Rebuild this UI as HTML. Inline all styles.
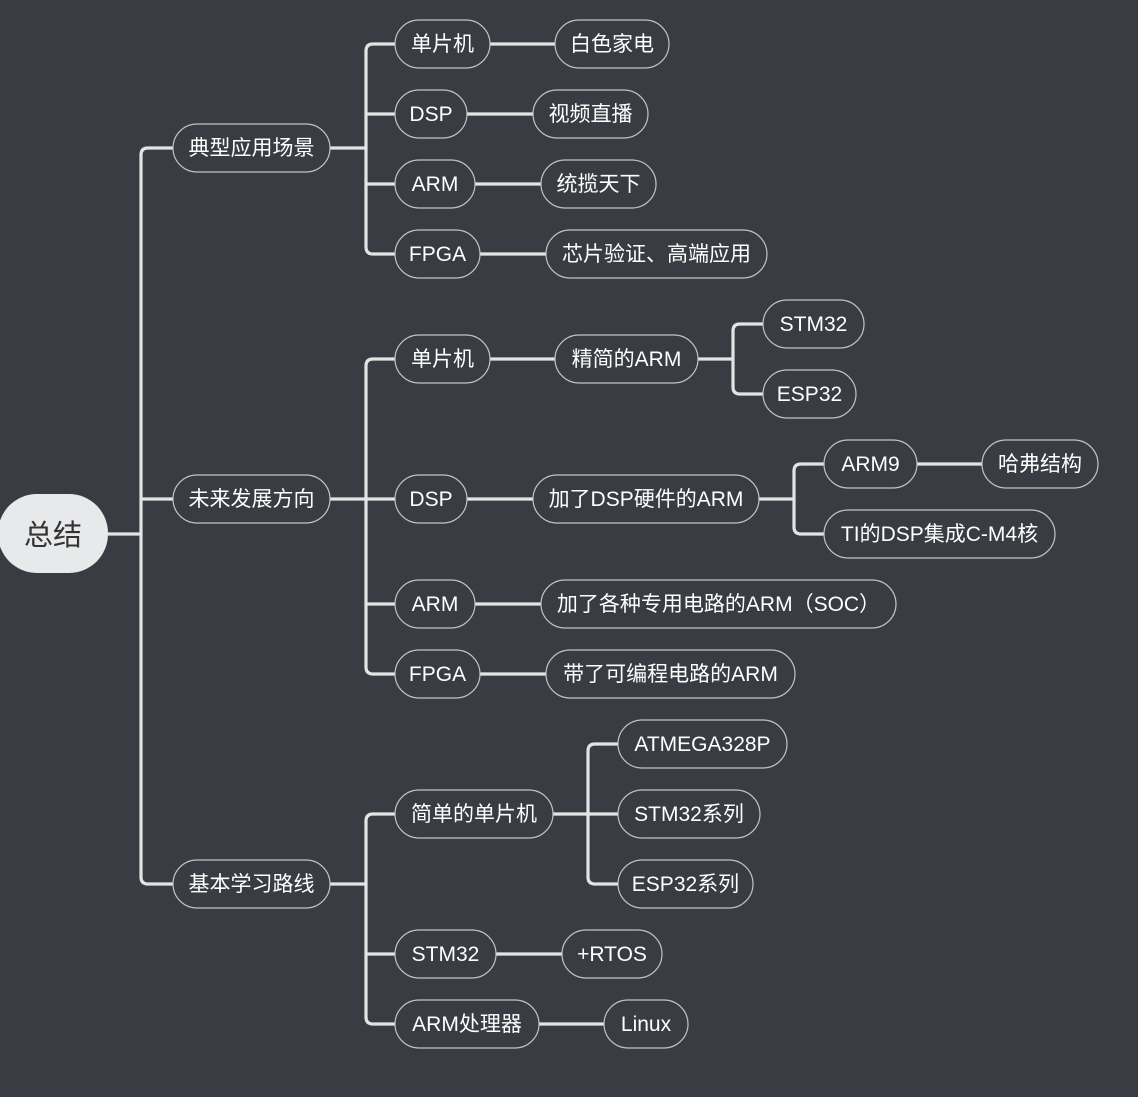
<!DOCTYPE html>
<html><head><meta charset="utf-8"><style>
html,body{margin:0;padding:0;background:#393c42;}
svg{display:block}
text{font-family:"Liberation Sans","Noto Sans CJK SC",sans-serif;font-size:21px;fill:#fff;}
.n{fill:#393c42;stroke:#c4c4c4;stroke-width:1.2}
.l{fill:none;stroke:#e4e4e4;stroke-width:3.2}
</style></head><body>
<svg width="1138" height="1097" viewBox="0 0 1138 1097" xmlns="http://www.w3.org/2000/svg">
<g class="l">
<path d="M108 534 H141"/>
<path d="M173 148 H148 Q141 148 141 155 V877 Q141 884 148 884 H173"/>
<path d="M141 499 H173"/>
<path d="M330 148 H366"/>
<path d="M395 44 H373 Q366 44 366 51 V247 Q366 254 373 254 H395"/>
<path d="M366 114 H395 M366 184 H395"/>
<path d="M490 44 H555 M467 114 H533 M475 184 H541 M480 254 H546"/>
<path d="M330 499 H395"/>
<path d="M395 359 H373 Q366 359 366 366 V667 Q366 674 373 674 H395"/>
<path d="M366 604 H395"/>
<path d="M490 359 H555 M467 499 H533 M475 604 H541 M480 674 H546"/>
<path d="M698 359 H733"/>
<path d="M763 324 H740 Q733 324 733 331 V387 Q733 394 740 394 H763"/>
<path d="M759 499 H794"/>
<path d="M824 464 H801 Q794 464 794 471 V527 Q794 534 801 534 H824"/>
<path d="M917 464 H982"/>
<path d="M330 884 H366"/>
<path d="M395 814 H373 Q366 814 366 821 V1017 Q366 1024 373 1024 H395"/>
<path d="M366 954 H395"/>
<path d="M553 814 H618"/>
<path d="M618 744 H595 Q588 744 588 751 V877 Q588 884 595 884 H618"/>
<path d="M496 954 H562 M539 1024 H604"/>
</g>
<rect x="-2" y="494" width="110" height="79" rx="39" fill="#e8e9eb"/>
<text x="53" y="545" text-anchor="middle" style="font-size:29px;fill:#333">总结</text>
<g>
<rect class="n" x="173" y="124" width="157" height="48" rx="24"/><text x="251.5" y="155" text-anchor="middle">典型应用场景</text>
<rect class="n" x="173" y="475" width="157" height="48" rx="24"/><text x="251.5" y="506" text-anchor="middle">未来发展方向</text>
<rect class="n" x="173" y="860" width="157" height="48" rx="24"/><text x="251.5" y="891" text-anchor="middle">基本学习路线</text>

<rect class="n" x="395" y="20" width="95" height="48" rx="24"/><text x="442.5" y="51" text-anchor="middle">单片机</text>
<rect class="n" x="395" y="90" width="72" height="48" rx="24"/><text x="431" y="121" text-anchor="middle">DSP</text>
<rect class="n" x="395" y="160" width="80" height="48" rx="24"/><text x="435" y="191" text-anchor="middle">ARM</text>
<rect class="n" x="395" y="230" width="85" height="48" rx="24"/><text x="437.5" y="261" text-anchor="middle">FPGA</text>
<rect class="n" x="555" y="20" width="114" height="48" rx="24"/><text x="612" y="51" text-anchor="middle">白色家电</text>
<rect class="n" x="533" y="90" width="115" height="48" rx="24"/><text x="590.5" y="121" text-anchor="middle">视频直播</text>
<rect class="n" x="541" y="160" width="115" height="48" rx="24"/><text x="598.5" y="191" text-anchor="middle">统揽天下</text>
<rect class="n" x="546" y="230" width="221" height="48" rx="24"/><text x="656.5" y="261" text-anchor="middle">芯片验证、高端应用</text>

<rect class="n" x="395" y="335" width="95" height="48" rx="24"/><text x="442.5" y="366" text-anchor="middle">单片机</text>
<rect class="n" x="395" y="475" width="72" height="48" rx="24"/><text x="431" y="506" text-anchor="middle">DSP</text>
<rect class="n" x="395" y="580" width="80" height="48" rx="24"/><text x="435" y="611" text-anchor="middle">ARM</text>
<rect class="n" x="395" y="650" width="85" height="48" rx="24"/><text x="437.5" y="681" text-anchor="middle">FPGA</text>
<rect class="n" x="555" y="335" width="143" height="48" rx="24"/><text x="626.5" y="366" text-anchor="middle">精简的ARM</text>
<rect class="n" x="533" y="475" width="226" height="48" rx="24"/><text x="646" y="506" text-anchor="middle">加了DSP硬件的ARM</text>
<rect class="n" x="541" y="580" width="355" height="48" rx="24"/><text x="718.5" y="611" text-anchor="middle">加了各种专用电路的ARM（SOC）</text>
<rect class="n" x="546" y="650" width="249" height="48" rx="24"/><text x="670.5" y="681" text-anchor="middle">带了可编程电路的ARM</text>
<rect class="n" x="763" y="300" width="101" height="48" rx="24"/><text x="813.5" y="331" text-anchor="middle">STM32</text>
<rect class="n" x="763" y="370" width="93" height="48" rx="24"/><text x="809.5" y="401" text-anchor="middle">ESP32</text>
<rect class="n" x="824" y="440" width="93" height="48" rx="24"/><text x="870.5" y="471" text-anchor="middle">ARM9</text>
<rect class="n" x="824" y="510" width="231" height="48" rx="24"/><text x="939.5" y="541" text-anchor="middle">TI的DSP集成C-M4核</text>
<rect class="n" x="982" y="440" width="116" height="48" rx="24"/><text x="1040" y="471" text-anchor="middle">哈弗结构</text>

<rect class="n" x="395" y="790" width="158" height="48" rx="24"/><text x="474" y="821" text-anchor="middle">简单的单片机</text>
<rect class="n" x="395" y="930" width="101" height="48" rx="24"/><text x="445.5" y="961" text-anchor="middle">STM32</text>
<rect class="n" x="395" y="1000" width="144" height="48" rx="24"/><text x="467" y="1031" text-anchor="middle">ARM处理器</text>
<rect class="n" x="618" y="720" width="169" height="48" rx="24"/><text x="702.5" y="751" text-anchor="middle">ATMEGA328P</text>
<rect class="n" x="618" y="790" width="142" height="48" rx="24"/><text x="689" y="821" text-anchor="middle">STM32系列</text>
<rect class="n" x="618" y="860" width="135" height="48" rx="24"/><text x="685.5" y="891" text-anchor="middle">ESP32系列</text>
<rect class="n" x="562" y="930" width="100" height="48" rx="24"/><text x="612" y="961" text-anchor="middle">+RTOS</text>
<rect class="n" x="604" y="1000" width="84" height="48" rx="24"/><text x="646" y="1031" text-anchor="middle">Linux</text>
</g>
</svg>
</body></html>
